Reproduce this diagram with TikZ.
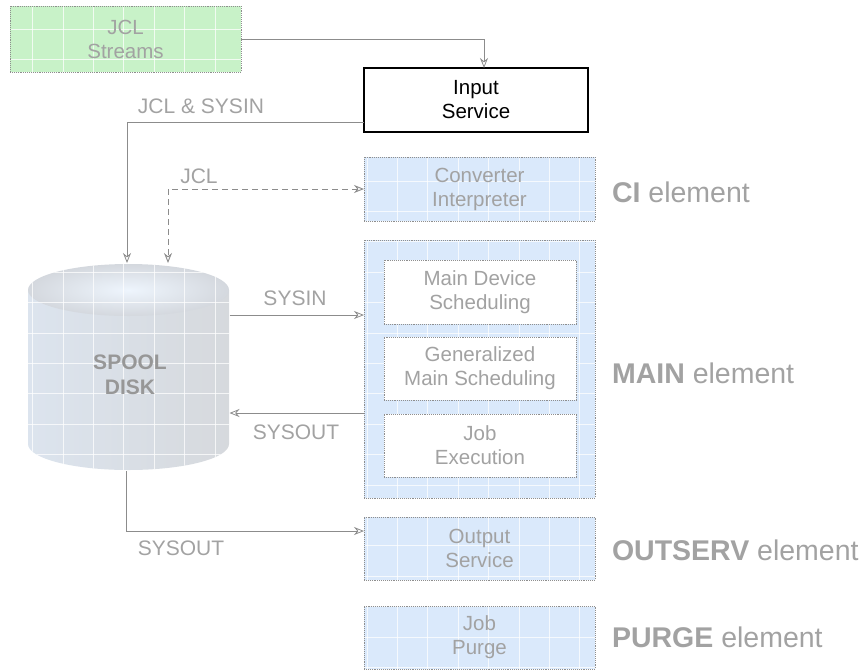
\documentclass[tikz,border=0pt]{standalone}
\usepackage{fontspec}
\setmainfont{Liberation Sans}
\usetikzlibrary{arrows.meta,backgrounds}
\definecolor{linegray}{HTML}{8C8C8C}
\definecolor{textgray}{HTML}{A2A2A2}
\definecolor{framegray}{HTML}{8E8E8E}
\definecolor{bluefill}{HTML}{DAE9FB}
\definecolor{greenfill}{HTML}{C8F2C8}
\definecolor{labelgray}{HTML}{979797}
\definecolor{diskleft}{RGB}{220,228,238}
\definecolor{diskmid}{RGB}{236,243,251}
\definecolor{diskright}{RGB}{214,217,221}
\definecolor{lidinner}{RGB}{238,245,253}
\definecolor{lidouter}{RGB}{212,216,222}
\tikzset{
  every node/.style={font=\fontsize{20.5}{24}\selectfont, align=center, inner sep=0pt, outer sep=0pt},
  procbox/.style={draw=framegray, densely dotted, line width=0.9pt, text=textgray},
  plainbox/.style={draw=black, line width=1.2pt, text=black},
  flowlabel/.style={text=textgray, font=\fontsize{21}{24}\selectfont},
  elemlabel/.style={anchor=west, text=textgray, font=\fontsize{28.5}{31}\selectfont},
  arr/.style={draw=linegray, line width=0.8pt, -{Stealth[open,length=10pt,width=8pt]}},
  gridline/.style={white, line width=0.6pt, opacity=0.75},
}
% white grid texture laid over tinted areas
\newcommand\paintgrid{%
  \foreach \i in {0,...,28} {\draw[gridline] ({2+30.4*\i},0) -- ++(0,670);}
  \foreach \j in {0,...,22} {\draw[gridline] (0,{-1.5+30.4*\j}) -- ++(866,0);}}
\newcommand\tintbox[2]{%
  \fill[#2] (#1.north west) rectangle (#1.south east);
  \begin{scope}\clip (#1.north west) rectangle (#1.south east);\paintgrid\end{scope}}
\begin{document}
\begin{tikzpicture}[x=1pt,y=-1pt]
\useasboundingbox (0,0) rectangle (866,670);

% process boxes
\node[procbox, minimum width=231pt, minimum height=66pt] (jcl) at (125.5,39) {JCL\\Streams};
\node[plainbox, minimum width=224pt, minimum height=64pt] (input) at (476,100) {Input\\Service};
\node[procbox, minimum width=231pt, minimum height=64pt] (conv) at (479.5,189) {Converter\\Interpreter};
\node[procbox, minimum width=231pt, minimum height=258pt] (main) at (479.5,369) {};
\node[procbox, fill=white, minimum width=192pt, minimum height=64pt] (mds) at (480,292) {Main Device\\Scheduling};
\node[procbox, fill=white, minimum width=192pt, minimum height=63pt] (gms) at (480,368.5) {Generalized\\Main Scheduling};
\node[procbox, fill=white, minimum width=192pt, minimum height=63pt] (jobex) at (480,445.5) {Job\\Execution};
\node[procbox, minimum width=231pt, minimum height=63pt] (outserv) at (479.5,548.5) {Output\\Service};
\node[procbox, minimum width=231pt, minimum height=63pt] (purge) at (479.5,637.5) {Job\\Purge};

% spool disk
\node[minimum width=202pt, minimum height=208pt] (disk) at (128.5,367) {};
\node[text=labelgray, font=\bfseries\fontsize{21}{25}\selectfont] (disklabel) at (130,374.5) {SPOOL\\DISK};

% element captions
\node[elemlabel] (cilab) at (612,192) {\textbf{CI} element};
\node[elemlabel] (mainlab) at (612,373) {\textbf{MAIN} element};
\node[elemlabel] (outlab) at (612,550) {\textbf{OUTSERV} element};
\node[elemlabel] (purgelab) at (612,637) {\textbf{PURGE} element};

% tinted fills and the disk body
\begin{scope}[on background layer]
  \tintbox{jcl}{greenfill}
  \tintbox{conv}{bluefill}
  \tintbox{main}{bluefill}
  \tintbox{outserv}{bluefill}
  \tintbox{purge}{bluefill}
  \shade[left color=diskleft, middle color=diskmid, right color=diskright]
    (28,290) rectangle (229,444) (128.5,444) ellipse [x radius=100.5pt, y radius=26pt];
  \shade[inner color=lidinner, outer color=lidouter]
    (128.5,290) ellipse [x radius=100.5pt, y radius=26pt];
  \begin{scope}
    \clip (28,290) rectangle (229,444) (128.5,444) ellipse [x radius=100.5pt, y radius=26pt]
          (128.5,290) ellipse [x radius=100.5pt, y radius=26pt];
    \paintgrid
  \end{scope}
\end{scope}

% connectors
\draw[arr] (jcl.east) -| ([xshift=8pt]input.north);
\draw[arr] ([yshift=-22pt]input.west) -| ([xshift=-1.5pt]disk.north);
\draw[arr, line width=0.9pt, dash pattern=on 6pt off 4pt,
      {Stealth[open,length=10pt,width=8pt]}-{Stealth[open,length=10pt,width=8pt]}]
  (conv.west) -| ([xshift=39.5pt]disk.north);
\path ([yshift=54pt]main.west) coordinate (sysinend);
\draw[arr] (disk.east |- sysinend) -- (sysinend);
\path ([yshift=-44pt]main.west) coordinate (sysoutstart);
\draw[arr] (sysoutstart) -- (disk.east |- sysoutstart);
\draw[arr] ([xshift=-2.5pt]disk.south) |- ([yshift=17.5pt]outserv.west);

% connector labels
\node[flowlabel] (lbljs) at (201,106) {JCL \& SYSIN};
\node[flowlabel] (lbljcl) at (199,176) {JCL};
\node[flowlabel] (lblsysin) at (295,298) {SYSIN};
\node[flowlabel] (lblsysout) at (296,432) {SYSOUT};
\node[flowlabel] (lblsysout2) at (181,548) {SYSOUT};
\end{tikzpicture}
\end{document}
